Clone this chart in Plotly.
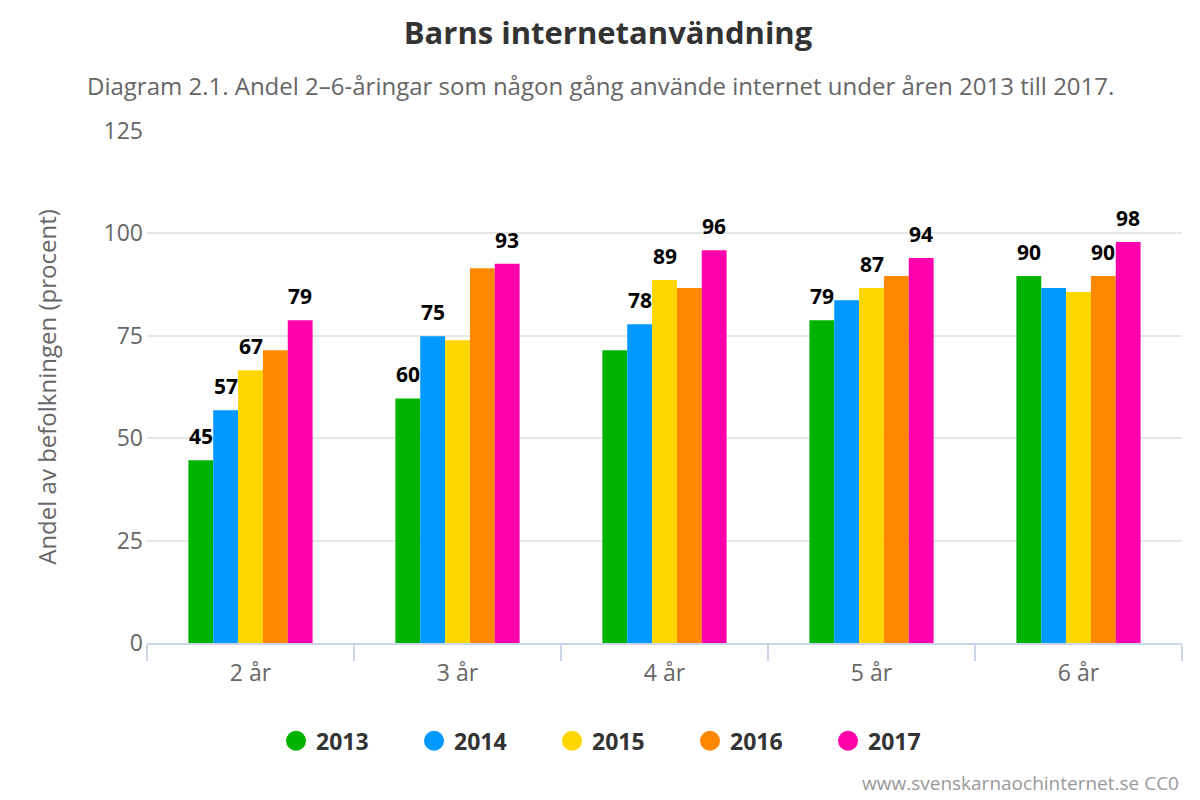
import plotly.graph_objects as go

categories = ["2 år", "3 år", "4 år", "5 år", "6 år"]
years = ["2013", "2014", "2015", "2016", "2017"]
v2013 = [44.6, 59.7, 71.5, 78.8, 89.6]
v2014 = [56.8, 74.9, 77.8, 83.7, 86.7]
v2015 = [66.6, 73.9, 88.6, 86.7, 85.7]
v2016 = [71.5, 91.5, 86.7, 89.6, 89.6]
v2017 = [78.8, 92.6, 95.9, 94.0, 97.9]
# which data labels are visible in the original (others hidden by overlap)
show2013 = [1, 1, 0, 1, 1]
show2014 = [1, 1, 1, 0, 0]
show2015 = [1, 0, 1, 1, 0]
show2016 = [0, 0, 0, 0, 1]
show2017 = [1, 1, 1, 1, 1]
colors = ["#00b300", "#0099ff", "#ffd700", "#ff8800", "#ff00aa"]

series = [v2013, v2014, v2015, v2016, v2017]
shows = [show2013, show2014, show2015, show2016, show2017]

plot_w = 1035
bargap = 0.4
bar_px = plot_w / len(categories) * (1 - bargap) / len(years)

fig = go.Figure()
for i, (name, vals, show, col) in enumerate(zip(years, series, shows, colors)):
    fig.add_trace(go.Bar(
        x=categories, y=vals, name=name, marker_color=col, marker_line_width=0,
        showlegend=False,
    ))
    # legend entry with round marker
    fig.add_trace(go.Scatter(
        x=[None], y=[None], mode="markers", name=name,
        marker=dict(color=col, size=24, symbol="circle", line=dict(color=col, width=4)),
    ))
    # data labels, lifted above the bar like the original
    for cat, v, s in zip(categories, vals, show):
        if s:
            fig.add_annotation(x=cat, y=v, text=f"<b>{v:.0f}</b>", showarrow=False,
                               xanchor="center", yanchor="bottom",
                               xshift=(i - (len(years) - 1) / 2) * bar_px, yshift=8,
                               font=dict(family="Open Sans", size=21, color="#000000"))

fig.update_layout(
    width=1200, height=800,
    paper_bgcolor="white", plot_bgcolor="white",
    margin=dict(l=139, r=26, t=123, b=165),
    barmode="group", bargap=bargap, bargroupgap=0,
    font=dict(family="Open Sans", color="#666666"),
    title=dict(text="<b>Barns internetanvändning</b>", x=0.5, xref="container",
               y=1 - 25 / 800, yref="container", yanchor="middle",
               font=dict(family="Open Sans", size=31, color="#333333")),
    legend=dict(orientation="h", x=0.458, xanchor="center", y=-0.191, yanchor="middle",
                font=dict(family="Open Sans", size=23, color="#333333", weight="bold"),
                entrywidth=93, entrywidthmode="pixels", traceorder="normal"),
    showlegend=True,
)
fig.add_annotation(text="Diagram 2.1. Andel 2–6-åringar som någon gång använde internet under åren 2013 till 2017.",
                   x=0.4386, y=1.088, xref="paper", yref="paper", showarrow=False,
                   xanchor="center", yanchor="middle",
                   font=dict(family="Open Sans", size=24, color="#666666"))
fig.add_annotation(text="www.svenskarnaochinternet.se CC0",
                   x=0.999, y=-0.273, xref="paper", yref="paper", showarrow=False,
                   xanchor="right", yanchor="middle",
                   font=dict(family="Open Sans", size=19, color="#999999"))

fig.update_yaxes(range=[0, 125], dtick=25, showgrid=True, gridcolor="#e6e6e6", gridwidth=1.5,
                 zeroline=False, showline=False, ticks="",
                 tickfont=dict(size=23, color="#666666"), ticklabelstandoff=3,
                 title=dict(text="Andel av befolkningen (procent)", standoff=40,
                            font=dict(size=24, color="#666666")))
fig.update_xaxes(showline=True, linecolor="#ccd6eb", linewidth=2, ticks="outside",
                 tickson="boundaries", ticklen=16, tickcolor="#ccd6eb", tickwidth=2,
                 tickfont=dict(size=23, color="#666666"), ticklabelstandoff=8,
                 showgrid=False)

fig.write_html("out.html")
